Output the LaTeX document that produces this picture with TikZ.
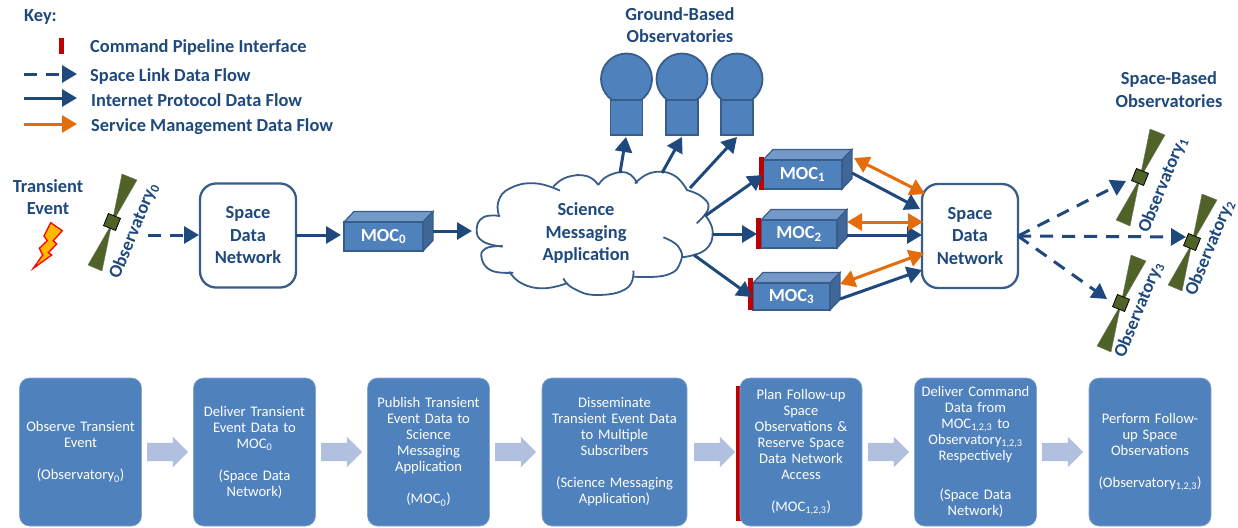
\documentclass[tikz,border=0pt]{standalone}
\usepackage{fontspec}
\setmainfont{Carlito}
\usetikzlibrary{arrows.meta,shapes.arrows,calc}
\definecolor{navy}{HTML}{1F497D}
\definecolor{lineblue}{HTML}{385D8A}
\definecolor{boxblue}{HTML}{4F81BD}
\definecolor{toplight}{HTML}{7299C8}
\definecolor{sidedark}{HTML}{3F6797}
\definecolor{flowblue}{HTML}{B0C0DE}
\definecolor{orangeflow}{HTML}{E46C0A}
\definecolor{redbar}{HTML}{C00000}
\definecolor{olive}{HTML}{4F6228}
\tikzset{
 x=1pt,y=-1pt,
 lbl/.style={inner sep=0pt,text=navy,font=\fontsize{18.4}{22.5}\selectfont\bfseries,align=center},
 keylbl/.style={lbl,anchor=west},
 flow/.style={draw=navy,line width=3pt,-{Triangle[length=15pt,width=17pt]}},
 sman/.style={draw=orangeflow,line width=3pt,{Triangle[length=15pt,width=17pt]}-{Triangle[length=15pt,width=17pt]}},
 sman1/.style={draw=orangeflow,line width=3pt,-{Triangle[length=15pt,width=17pt]}},
 dashflow/.style={flow,dash pattern=on 13pt off 9pt},
 sdn/.style={draw=lineblue,line width=2.3pt,rounded corners=16pt,fill=white,minimum width=96pt,minimum height=104pt,inner sep=0pt,text=navy,font=\fontsize{18.4}{22.5}\selectfont\bfseries,align=center},
 front/.style={draw=lineblue,line width=1.6pt,fill=boxblue,inner sep=0pt,text=white,font=\fontsize{18.4}{20}\selectfont\bfseries},
 step box/.style={draw=boxblue!70!white,line width=.6pt,fill=boxblue,rounded corners=10pt,minimum width=122pt,minimum height=148pt,inner sep=0pt,text=white,text width=120pt,align=center,font=\fontsize{14.6}{16}\selectfont},
 flowarrow/.style={single arrow,fill=flowblue,draw=none,minimum height=41pt,single arrow head extend=6pt,single arrow head indent=0pt,inner xsep=0pt,inner ysep=9pt,shape border rotate=0},
 gobs/.style={draw=lineblue,line width=1.8pt,fill=boxblue},
 redmark/.style={fill=redbar,draw=none},
}
\newcommand{\mocbox}[6]{%
 \fill[toplight,draw=lineblue,line width=1.2pt] (#2,#3) -- ++(10,-10.5) -- (#4+10,#3-10.5) -- (#4,#3) -- cycle;
 \fill[sidedark,draw=lineblue,line width=1.2pt] (#4,#3) -- (#4+10,#3-10.5) -- (#4+10,#5-10.5) -- (#4,#5) -- cycle;
 \node[front,minimum width=#4pt-#2pt,minimum height=#5pt-#3pt] (#1) at ({(#2+#4)/2},{(#3+#5)/2}) {MOC\textsubscript{#6}};
}
\newcommand{\satellite}[6]{%
 \begin{scope}[shift={(#2,#3)}]
 \fill[olive,draw=gray!70!olive,line width=.4pt] (10,-48) -- (25,-42) -- (-24,43) -- (-10,49) -- cycle;
 \node[draw=black,line width=.8pt,fill=olive,minimum width=13pt,minimum height=13pt,inner sep=0pt,rotate=68] (#1) at (0,0) {};
 \node[lbl,rotate=67.5] (#1t) at (#4,#5) {Observatory\textsubscript{#6}};
 \end{scope}
}
\begin{document}
\begin{tikzpicture}
\useasboundingbox (0,0) rectangle (1238,527);
% Key
\node[keylbl] (key) at (24,17) {Key:};
\fill[redmark] (59,38) rectangle (64,54);
\node[keylbl] (k1) at (90,47) {Command Pipeline Interface};
\node[keylbl] (k2) at (90,76) {Space Link Data Flow};
\node[keylbl] (k3) at (91,100.5) {Internet Protocol Data Flow};
\node[keylbl] (k4) at (91,127) {Service Management Data Flow};
\coordinate (k2a) at (24,74); \coordinate (k2b) at (77,74);
\coordinate (k3a) at (24,98); \coordinate (k3b) at (77,98);
\coordinate (k4a) at (24,124); \coordinate (k4b) at (77,124);
\draw[dashflow] (k2a) -- (k2b);
\draw[flow] (k3a) -- (k3b);
\draw[sman1] (k4a) -- (k4b);
% Transient event
\node[lbl] (te) at (48,197) {Transient\\Event};
\draw[red,line width=1.3pt,fill=orange!55!yellow,line join=miter] (50.7,222.7) -- (62.3,230.7) -- (53.3,240.7) -- (56.7,244) -- (48.3,252.7) -- (51.7,255) -- (33.3,268.3) -- (42.7,255) -- (39.3,248.3) -- (47.3,240.7) -- (44,236) -- cycle;
\satellite{obs0}{112}{222}{22}{9}{0}
% Left network
\node[sdn] (sdn1) at (248,235.5) {Space\\Data\\Network};
\mocbox{moc0}{344}{222}{423}{251}{0}
% Cloud
\begin{scope}[shift={(460,0)},x=.33333pt,y=-.33333pt]
 \fill[white] plot[smooth cycle,tension=.6] coordinates {(50,690)(70,650)(118,640)(150,560)(225,550)(290,560)(350,525)(415,545)(500,515)(570,515)(650,525)(682,570)(740,600)(740,640)(758,700)(730,750)(665,770)(640,820)(520,830)(490,875)(400,885)(320,850)(250,865)(170,840)(90,815)(65,770)(75,740)};
 \begin{scope}[draw=lineblue,line width=1.8pt]
 \draw plot[smooth,tension=.8] coordinates {(128,740)(70,725)(50,690)(70,652)(120,648)};
 \draw plot[smooth,tension=.8] coordinates {(118,650)(115,605)(150,565)(225,550)(300,572)};
 \draw plot[smooth,tension=.8] coordinates {(280,560)(320,532)(380,528)(415,555)};
 \draw plot[smooth,tension=.8] coordinates {(415,555)(445,527)(500,518)(532,550)};
 \draw plot[smooth,tension=.8] coordinates {(525,550)(575,518)(640,525)(682,572)};
 \draw plot[smooth,tension=.8] coordinates {(680,570)(725,590)(745,625)(710,670)};
 \draw plot[smooth,tension=.8] coordinates {(735,645)(758,695)(735,750)(665,772)};
 \draw plot[smooth,tension=.8] coordinates {(610,712)(655,740)(662,785)(620,825)(520,830)};
 \draw plot[smooth,tension=.8] coordinates {(520,812)(500,865)(410,885)(340,865)(310,835)};
 \draw plot[smooth,tension=.8] coordinates {(320,850)(250,865)(185,850)(148,815)};
 \draw plot[smooth,tension=.8] coordinates {(160,818)(95,812)(65,775)(78,745)(128,738)};
 \end{scope}
\end{scope}
\node[lbl] (sma) at (586,233) {Science\\Messaging\\Application};
\coordinate (cl-in) at (472,231);
\coordinate (cl-g1) at (620,173); \coordinate (cl-g2) at (662,173); \coordinate (cl-g3) at (690,188);
\coordinate (cl-m1) at (705,216); \coordinate (cl-m2) at (713,234); \coordinate (cl-m3) at (694,255);
% Ground observatories
\node[lbl] (gbo) at (680,25) {Ground-Based\\Observatories};
\foreach \n/\cx in {g1/626.5,g2/682,g3/737}{
 \node[gobs,circle,minimum size=51pt,inner sep=0pt] (\n c) at (\cx,79) {};
 \node[gobs,minimum width=32pt,minimum height=35pt,inner sep=0pt] (\n) at (\cx,117.5) {};
}
% MOCs
\mocbox{moc1}{763}{160}{842}{189}{1}
\mocbox{moc2}{761}{220}{837}{248}{2}
\mocbox{moc3}{753}{283}{830}{310}{3}
\fill[redmark] (759,157) rectangle (763.5,189.5);
\fill[redmark] (756,218) rectangle (761,249);
\fill[redmark] (748,278) rectangle (753,310);
% Right network
\node[sdn] (sdn2) at (970,236) {Space\\Data\\Network};
% Connectors, left part
\coordinate (o0out) at (148,235);
\coordinate (s1w) at (199,235); \coordinate (s1e) at (296,235); \coordinate (m0w) at (341,235);
\coordinate (m0e) at (433,231);
\draw[dashflow] (o0out) -- (s1w);
\draw[flow] (s1e) -- (m0w);
\draw[flow] (m0e) -- (cl-in);
\coordinate (g1s) at (626,137); \coordinate (g2s) at (682,137); \coordinate (g3s) at (737,137);
\draw[flow] (cl-g1) -- (g1s);
\draw[flow] (cl-g2) -- (g2s);
\draw[flow] (cl-g3) -- (g3s);
\coordinate (m1w) at (763,175); \coordinate (m2w) at (757,234); \coordinate (m3w) at (752,297);
\draw[flow] (cl-m1) -- (m1w);
\draw[flow] (cl-m2) -- (m2w);
\draw[flow] (cl-m3) -- (m3w);
% MOC <-> network
\coordinate (m1a) at (852,173); \coordinate (s1a) at (920,209);
\coordinate (m1b) at (854,158); \coordinate (s1b) at (925,194);
\coordinate (m2a) at (847,235); \coordinate (s2a) at (922,235);
\coordinate (m2b) at (847,222); \coordinate (s2b) at (923,222);
\coordinate (m3a) at (840,299); \coordinate (s3a) at (922,270);
\coordinate (m3b) at (840,284); \coordinate (s3b) at (924,253);
\draw[flow] (m1a) -- (s1a);
\draw[flow] (m2a) -- (s2a);
\draw[flow] (m3a) -- (s3a);
\draw[sman] (m1b) -- (s1b);
\draw[sman] (m2b) -- (s2b);
\draw[sman] (m3b) -- (s3b);
% Space-based
\node[lbl] (sbo) at (1169,89.5) {Space-Based\\Observatories};
\satellite{obs1}{1140}{177}{23}{8}{1}
\satellite{obs2}{1192}{242}{18}{6}{2}
\satellite{obs3}{1121}{303}{18}{7}{3}
\coordinate (hub) at (1018,236);
\coordinate (o1in) at (1126,181); \coordinate (o2in) at (1186,237); \coordinate (o3in) at (1107,299);
\draw[dashflow] (hub) -- (o1in);
\draw[dashflow] (hub) -- (o2in);
\draw[dashflow] (hub) -- (o3in);
% Bottom process
\fill[redmark] (736,386) rectangle (742,521);
\node[step box] (b1) at (80.5,452) {Observe Transient\\Event\\~\\(Observatory\textsubscript{0})};
\node[step box] (b2) at (254.5,452) {Deliver Transient\\Event Data to\\MOC\textsubscript{0}\\~\\(Space Data\\Network)};
\node[step box] (b3) at (428.5,452) {Publish Transient\\Event Data to\\Science\\Messaging\\Application\\~\\(MOC\textsubscript{0})};
\node[step box,minimum width=145pt,text width=142pt] (b4) at (614.5,452) {Disseminate\\Transient Event Data\\to Multiple\\Subscribers\\~\\(Science Messaging\\Application)};
\node[step box] (b5) at (801,452) {Plan Follow-up\\Space\\Observations \&\\Reserve Space\\Data Network\\Access\\~\\(MOC\textsubscript{1,2,3})};
\node[step box] (b6) at (975.5,452) {Deliver Command\\Data from\\MOC\textsubscript{1,2,3} to\\Observatory\textsubscript{1,2,3}\\Respectively\\[23pt](Space Data\\Network)};
\node[step box] (b7) at (1150,452) {Perform Follow-\\up Space\\Observations\\~\\(Observatory\textsubscript{1,2,3})};
\foreach \nm/\cx in {a1/163,a2/337,a3/511,a4/710,a5/884,a6/1058}{
 \node[flowarrow] (\nm) at (\cx,452) {};
}
\end{tikzpicture}
\end{document}
